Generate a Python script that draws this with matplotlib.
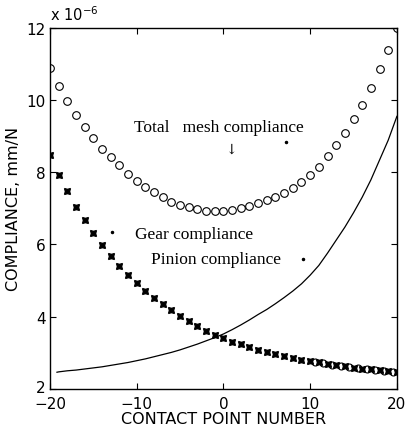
import matplotlib
matplotlib.use("Agg")
import matplotlib.pyplot as plt
import matplotlib.transforms as mtransforms

points = list(range(-20, 21))

total = [10.88, 10.40, 9.99, 9.58, 9.25, 8.95, 8.66, 8.42, 8.19, 7.96,
         7.77, 7.60, 7.45, 7.31, 7.19, 7.10, 7.03, 6.97, 6.94, 6.92,
         6.92, 6.95, 7.00, 7.06, 7.14, 7.22, 7.32, 7.43, 7.56, 7.72,
         7.92, 8.15, 8.45, 8.77, 9.10, 9.47, 9.87, 10.33, 10.85, 11.38, 12.0]

gear = [8.47, 7.93, 7.47, 7.05, 6.67, 6.32, 5.99, 5.69, 5.41, 5.15,
        4.93, 4.71, 4.51, 4.34, 4.18, 4.02, 3.87, 3.73, 3.61, 3.50,
        3.40, 3.31, 3.23, 3.15, 3.08, 3.02, 2.96, 2.90, 2.85, 2.81,
        2.77, 2.73, 2.69, 2.65, 2.62, 2.59, 2.56, 2.54, 2.51, 2.49, 2.46]

# pinion curve, starting just inside the left edge
pinion_x = [-19.2] + points[1:]
pinion = [2.46, 2.47, 2.50, 2.52, 2.55, 2.58, 2.61, 2.65, 2.69, 2.73,
          2.78, 2.83, 2.89, 2.95, 3.01, 3.08, 3.16, 3.24, 3.33, 3.42,
          3.52, 3.64, 3.77, 3.91, 4.06, 4.20, 4.36, 4.53, 4.71, 4.91,
          5.15, 5.42, 5.76, 6.12, 6.48, 6.88, 7.31, 7.79, 8.34, 8.89, 9.55]

# extra open circles sitting between the gear stars on the right
gear_o_x = [10.5, 11.5, 12.5, 13.5, 14.5, 15.5, 16.5, 17.5, 18.5, 19.5]
gear_o_y = [2.75, 2.71, 2.67, 2.63, 2.60, 2.57, 2.55, 2.52, 2.50, 2.47]

fig = plt.figure(figsize=(4.10, 4.39), dpi=100)
ax = fig.add_axes([0.122, 0.112, 0.846, 0.822])

ax.plot(pinion_x, pinion, color='black', lw=0.9)
ax.plot(points, gear, ls='none', marker=(4, 1, 45), ms=6, color='black')
ax.plot(gear_o_x, gear_o_y, ls='none', marker='o', ms=5, mfc='none',
        mec='black', mew=0.8)
ax.plot(points, total, ls='none', marker='o', ms=5.5, mfc='none',
        mec='black', mew=0.8)

serif = 'Liberation Serif'
ax.text(-0.5, 9.25, 'Total   mesh compliance', family=serif, fontsize=12.5,
        ha='center', va='center')
ax.text(0.9, 8.65, '\u2193', family='DejaVu Serif', fontsize=10,
        ha='center', va='center')
ax.text(-10.2, 6.3, 'Gear compliance', family=serif, fontsize=12.5,
        ha='left', va='center')
ax.text(-8.3, 5.6, 'Pinion compliance', family=serif, fontsize=12.5,
        ha='left', va='center')
ax.plot([-12.8, 9.2, 7.2], [6.35, 5.6, 8.83], ls='none', marker='.',
        ms=3, color='black')

ax.set_xlim(-20, 20)
ax.set_ylim(2, 12)
ax.set_xticks([-20, -10, 0, 10, 20])
ax.set_yticks([2, 4, 6, 8, 10, 12])
ax.tick_params(direction='in', top=True, right=True, labelsize=11,
               length=4, pad=3)
ax.tick_params(axis='x', pad=5)
# lift the bottom "2" a little so it clears "-20"
lbl = ax.get_yticklabels()[0]
lbl.set_transform(lbl.get_transform() +
                  mtransforms.ScaledTranslation(0, 3 / 100, fig.dpi_scale_trans))
for s in ax.spines.values():
    s.set_linewidth(1.0)

ax.set_xlabel('CONTACT POINT NUMBER', fontsize=11.5, labelpad=0)
ax.set_ylabel('COMPLIANCE, mm/N', fontsize=11.5, labelpad=4)
fig.text(0.122, 0.945, 'x 10$^{-6}$', fontsize=10.5, ha='left', va='bottom')

fig.savefig('out.png', dpi=100)
